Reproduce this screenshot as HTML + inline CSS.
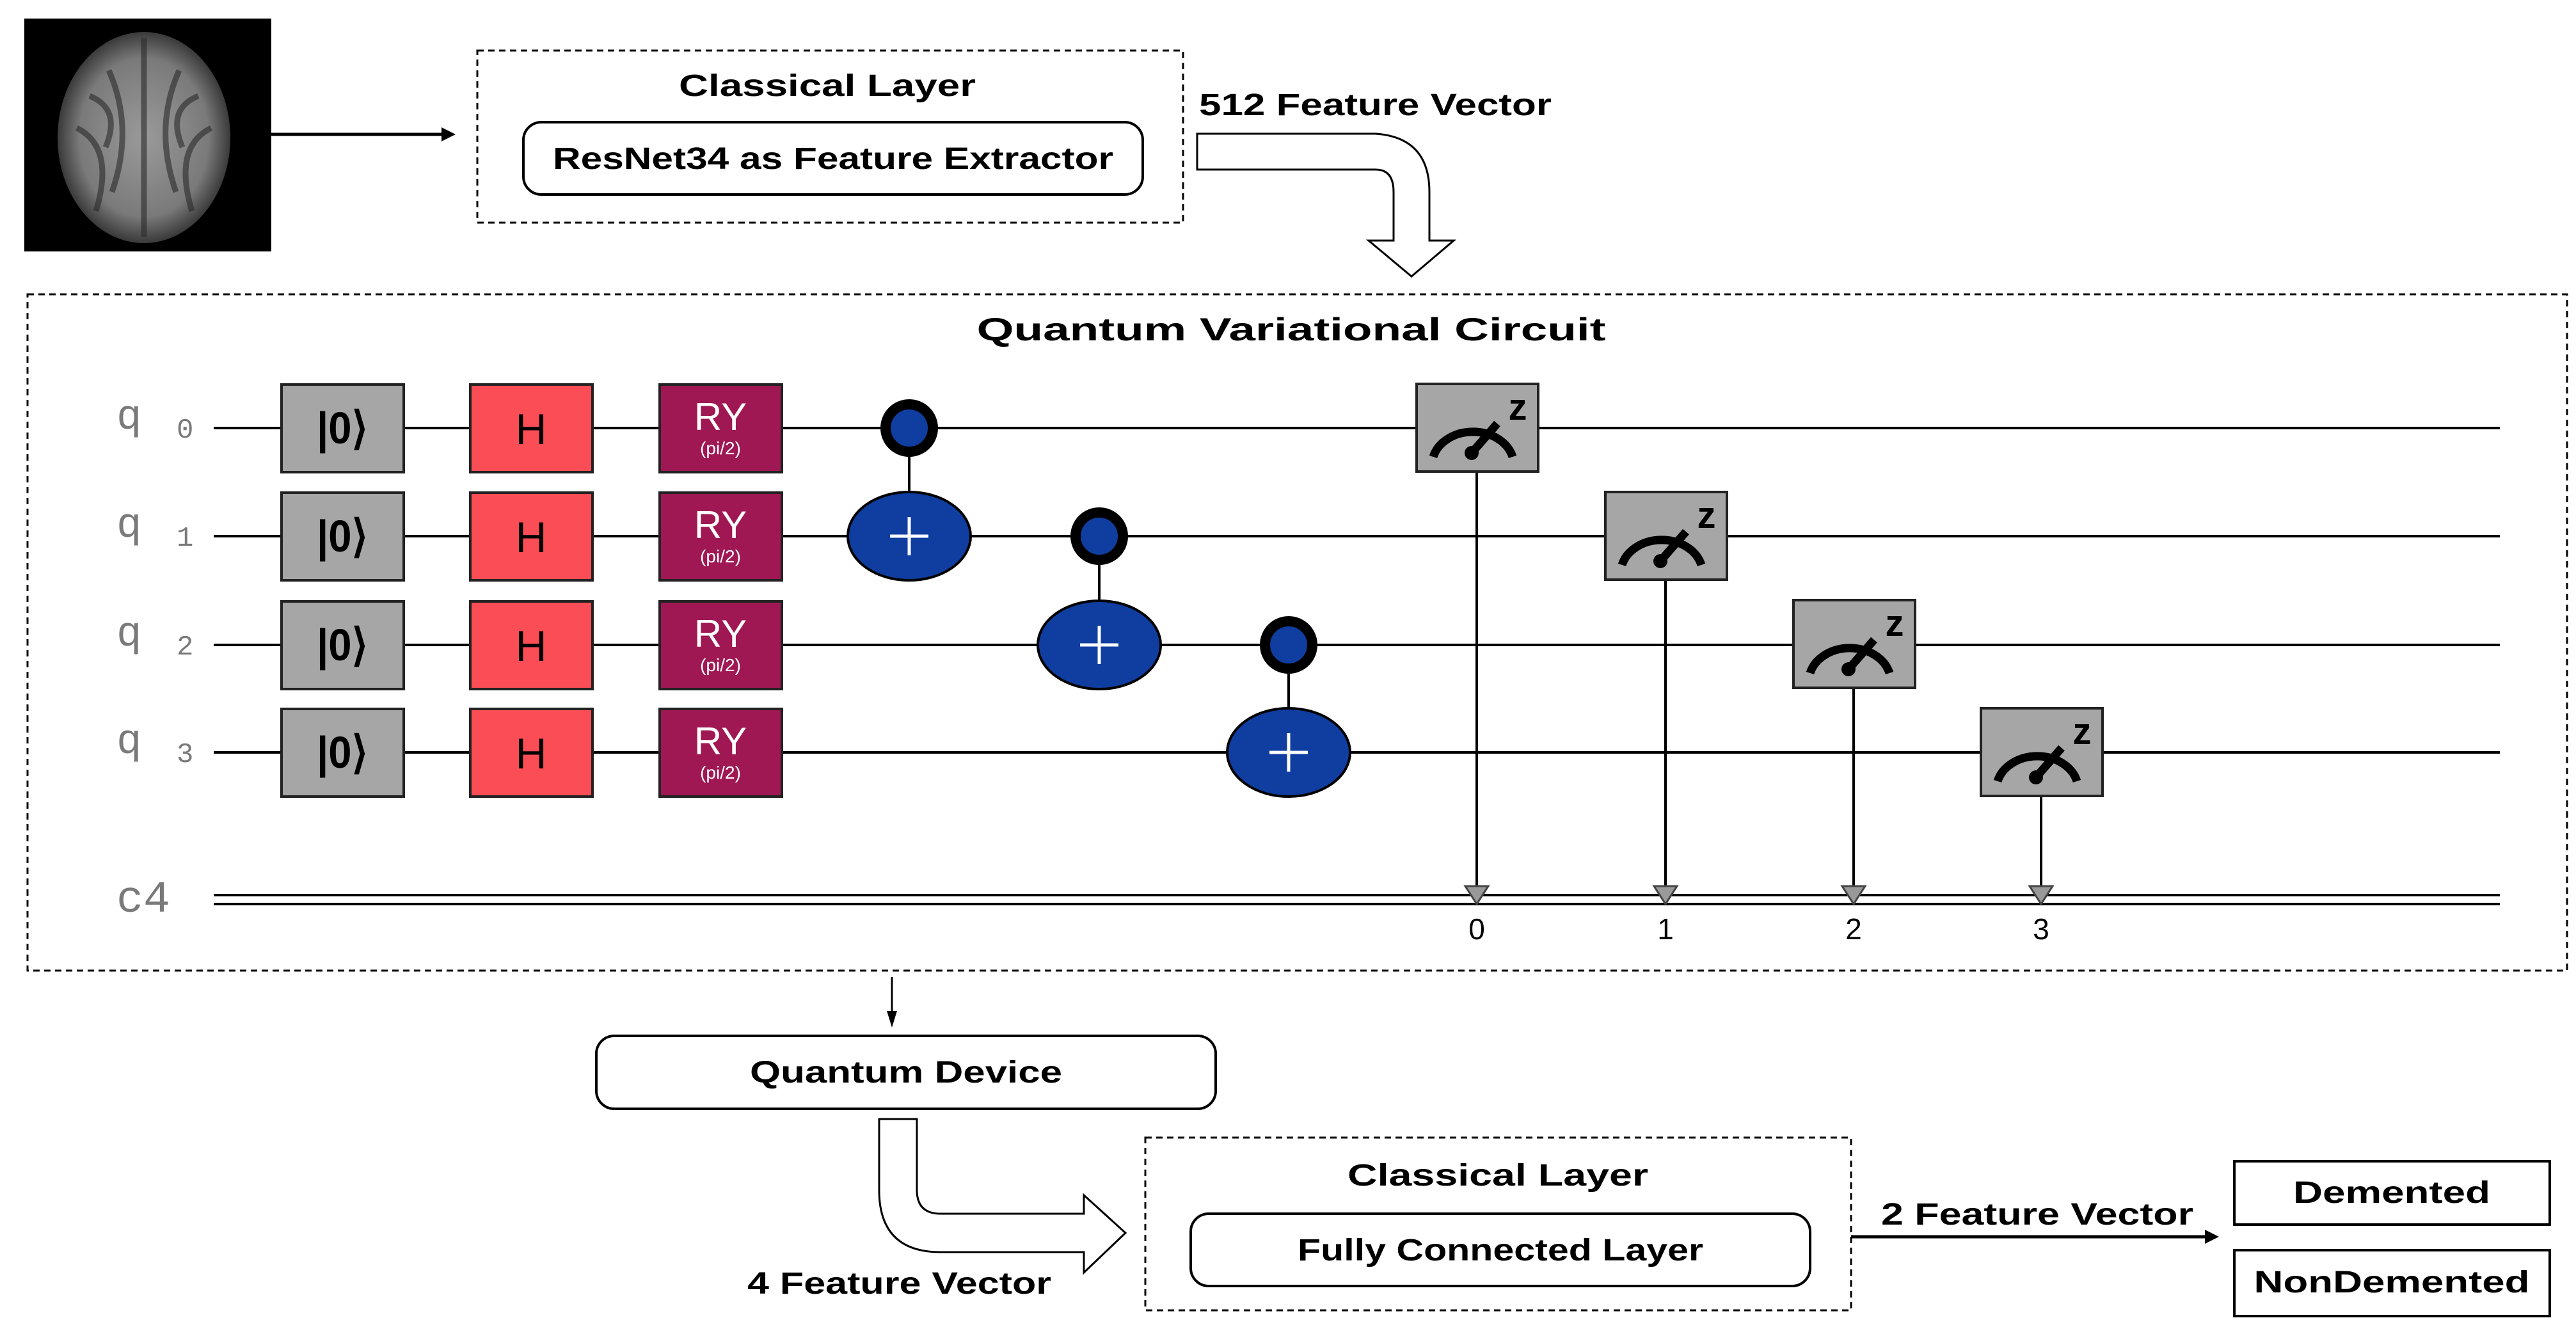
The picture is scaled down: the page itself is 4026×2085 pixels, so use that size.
<!DOCTYPE html>
<html><head><meta charset="utf-8"><style>
html,body{margin:0;padding:0;background:#fff;}
svg{display:block;}
.t{font-family:"Liberation Sans",sans-serif;font-weight:bold;fill:#000;}
.m{font-family:"Liberation Mono",monospace;fill:#7a7a7a;}
</style></head><body>
<svg width="4026" height="2085" viewBox="0 0 4026 2085" xmlns="http://www.w3.org/2000/svg">
<defs>
<radialGradient id="br" cx="50%" cy="50%" r="50%">
<stop offset="0" stop-color="#9a9a9a"/><stop offset="0.75" stop-color="#7a7a7a"/><stop offset="1" stop-color="#3a3a3a"/>
</radialGradient>
</defs>
<!-- brain image -->
<rect x="38" y="29" width="386" height="364" fill="#000"/>
<ellipse cx="225" cy="215" rx="135" ry="165" fill="url(#br)"/>
<path d="M225 60 L225 370 M170 110 Q210 200 175 300 M280 110 Q240 200 275 300 M120 200 Q180 230 150 330 M330 200 Q270 230 300 330 M140 150 Q190 170 165 230 M310 150 Q260 170 285 230" stroke="#2a2a2a" stroke-width="9" fill="none" opacity="0.6"/>
<!-- arrow image -> classical -->
<line x1="424" y1="210" x2="700" y2="210" stroke="#000" stroke-width="5"/>
<polygon points="712,210 690,199 690,221" fill="#000"/>
<!-- classical layer 1 -->
<rect x="746" y="79" width="1103" height="269" fill="none" stroke="#000" stroke-width="3" stroke-dasharray="10,7"/>
<text class="t" x="1293" y="150" font-size="48" text-anchor="middle" textLength="464" lengthAdjust="spacingAndGlyphs">Classical Layer</text>
<rect x="818" y="191" width="968" height="113" rx="28" fill="#fff" stroke="#000" stroke-width="4"/>
<text class="t" x="1302" y="264" font-size="48" text-anchor="middle" textLength="876" lengthAdjust="spacingAndGlyphs">ResNet34 as Feature Extractor</text>
<text class="t" x="1874" y="180" font-size="48" textLength="551" lengthAdjust="spacingAndGlyphs">512 Feature Vector</text>
<!-- block arrow 1 -->
<path d="M1871 209 L2150 209 Q2234 215 2234 300 L2234 376 L2272 376 L2206 432 L2139 376 L2178 376 L2178 300 Q2178 265 2150 265 L1871 265 Z" fill="#fff" stroke="#000" stroke-width="3"/>
<!-- quantum box -->
<rect x="43" y="460" width="3969" height="1057" fill="none" stroke="#000" stroke-width="3" stroke-dasharray="10,7"/>
<text class="t" x="2018" y="532" font-size="50" text-anchor="middle" textLength="983" lengthAdjust="spacingAndGlyphs">Quantum Variational Circuit</text>
<!-- wires -->
<g stroke="#000" stroke-width="4">
<line x1="334" y1="669" x2="3907" y2="669"/>
<line x1="334" y1="838" x2="3907" y2="838"/>
<line x1="334" y1="1008" x2="3907" y2="1008"/>
<line x1="334" y1="1176" x2="3907" y2="1176"/>
<line x1="334" y1="1399" x2="3907" y2="1399"/>
<line x1="334" y1="1413" x2="3907" y2="1413"/>
</g>
<!-- labels -->
<g class="m">
<text x="182" y="670" font-size="66">q</text><text x="276" y="684" font-size="44">0</text>
<text x="182" y="839" font-size="66">q</text><text x="276" y="853" font-size="44">1</text>
<text x="182" y="1009" font-size="66">q</text><text x="276" y="1023" font-size="44">2</text>
<text x="182" y="1177" font-size="66">q</text><text x="276" y="1191" font-size="44">3</text>
<text x="182" y="1425" font-size="70">c4</text>
</g>
<!-- gates -->
<g stroke="#222" stroke-width="4">
<rect x="440" y="601" width="191" height="137" fill="#a6a6a6"/>
<rect x="735" y="601" width="191" height="137" fill="#fa4d56"/>
<rect x="1031" y="601" width="191" height="137" fill="#9f1853"/>
<rect x="440" y="770" width="191" height="137" fill="#a6a6a6"/>
<rect x="735" y="770" width="191" height="137" fill="#fa4d56"/>
<rect x="1031" y="770" width="191" height="137" fill="#9f1853"/>
<rect x="440" y="940" width="191" height="137" fill="#a6a6a6"/>
<rect x="735" y="940" width="191" height="137" fill="#fa4d56"/>
<rect x="1031" y="940" width="191" height="137" fill="#9f1853"/>
<rect x="440" y="1108" width="191" height="137" fill="#a6a6a6"/>
<rect x="735" y="1108" width="191" height="137" fill="#fa4d56"/>
<rect x="1031" y="1108" width="191" height="137" fill="#9f1853"/>
</g>
<g class="t" text-anchor="middle">
<text x="535" y="693" font-size="70" textLength="80" lengthAdjust="spacingAndGlyphs">|0⟩</text><text x="830" y="694" font-size="68" font-weight="normal">H</text>
<text x="535" y="862" font-size="70" textLength="80" lengthAdjust="spacingAndGlyphs">|0⟩</text><text x="830" y="863" font-size="68" font-weight="normal">H</text>
<text x="535" y="1032" font-size="70" textLength="80" lengthAdjust="spacingAndGlyphs">|0⟩</text><text x="830" y="1033" font-size="68" font-weight="normal">H</text>
<text x="535" y="1200" font-size="70" textLength="80" lengthAdjust="spacingAndGlyphs">|0⟩</text><text x="830" y="1201" font-size="68" font-weight="normal">H</text>
</g>
<g font-family="Liberation Sans,sans-serif" fill="#fff" text-anchor="middle">
<text x="1126" y="672" font-size="60">RY</text><text x="1126" y="710" font-size="28">(pi/2)</text>
<text x="1126" y="841" font-size="60">RY</text><text x="1126" y="879" font-size="28">(pi/2)</text>
<text x="1126" y="1011" font-size="60">RY</text><text x="1126" y="1049" font-size="28">(pi/2)</text>
<text x="1126" y="1179" font-size="60">RY</text><text x="1126" y="1217" font-size="28">(pi/2)</text>
</g>
<!-- CNOTs -->
<g stroke="#000" stroke-width="4">
<line x1="1421" y1="669" x2="1421" y2="838"/>
<line x1="1718" y1="838" x2="1718" y2="1008"/>
<line x1="2014" y1="1008" x2="2014" y2="1176"/>
</g>
<circle cx="1421" cy="669" r="37" fill="#0f3ea0" stroke="#000" stroke-width="16"/>
<circle cx="1718" cy="838" r="37" fill="#0f3ea0" stroke="#000" stroke-width="16"/>
<circle cx="2014" cy="1008" r="37" fill="#0f3ea0" stroke="#000" stroke-width="16"/>
<ellipse cx="1421" cy="838" rx="96" ry="69" fill="#0f3ea0" stroke="#000" stroke-width="4"/>
<ellipse cx="1718" cy="1008" rx="96" ry="69" fill="#0f3ea0" stroke="#000" stroke-width="4"/>
<ellipse cx="2014" cy="1176" rx="96" ry="69" fill="#0f3ea0" stroke="#000" stroke-width="4"/>
<g stroke="#fff" stroke-width="5">
<path d="M1421 808 V868 M1391 838 H1451"/>
<path d="M1718 978 V1038 M1688 1008 H1748"/>
<path d="M2014 1146 V1206 M1984 1176 H2044"/>
</g>
<!-- measurement -->
<g stroke="#000" stroke-width="4">
<line x1="2308" y1="737" x2="2308" y2="1390"/>
<line x1="2603" y1="906" x2="2603" y2="1390"/>
<line x1="2897" y1="1075" x2="2897" y2="1390"/>
<line x1="3190" y1="1244" x2="3190" y2="1390"/>
</g>
<g fill="#999" stroke="#444" stroke-width="3">
<polygon points="2290,1385 2326,1385 2308,1413"/>
<polygon points="2585,1385 2621,1385 2603,1413"/>
<polygon points="2879,1385 2915,1385 2897,1413"/>
<polygon points="3172,1385 3208,1385 3190,1413"/>
</g>
<g font-family="Liberation Sans,sans-serif" font-size="46" text-anchor="middle" fill="#000">
<text x="2308" y="1468">0</text><text x="2603" y="1468">1</text><text x="2897" y="1468">2</text><text x="3190" y="1468">3</text>
</g>
<g>
<g transform="translate(2214,600)">
<rect width="190" height="137" fill="#a6a6a6" stroke="#222" stroke-width="4"/>
<path d="M26 114 A64 52 0 0 1 150 114" fill="none" stroke="#000" stroke-width="13"/>
<path d="M86 108 L126 62" stroke="#000" stroke-width="13"/>
<circle cx="86" cy="108" r="11" fill="#000"/>
<text x="158" y="56" font-family="Liberation Sans,sans-serif" font-weight="bold" font-size="58" text-anchor="middle">z</text>
</g>
<g transform="translate(2509,769)">
<rect width="190" height="137" fill="#a6a6a6" stroke="#222" stroke-width="4"/>
<path d="M26 114 A64 52 0 0 1 150 114" fill="none" stroke="#000" stroke-width="13"/>
<path d="M86 108 L126 62" stroke="#000" stroke-width="13"/>
<circle cx="86" cy="108" r="11" fill="#000"/>
<text x="158" y="56" font-family="Liberation Sans,sans-serif" font-weight="bold" font-size="58" text-anchor="middle">z</text>
</g>
<g transform="translate(2803,938)">
<rect width="190" height="137" fill="#a6a6a6" stroke="#222" stroke-width="4"/>
<path d="M26 114 A64 52 0 0 1 150 114" fill="none" stroke="#000" stroke-width="13"/>
<path d="M86 108 L126 62" stroke="#000" stroke-width="13"/>
<circle cx="86" cy="108" r="11" fill="#000"/>
<text x="158" y="56" font-family="Liberation Sans,sans-serif" font-weight="bold" font-size="58" text-anchor="middle">z</text>
</g>
<g transform="translate(3096,1107)">
<rect width="190" height="137" fill="#a6a6a6" stroke="#222" stroke-width="4"/>
<path d="M26 114 A64 52 0 0 1 150 114" fill="none" stroke="#000" stroke-width="13"/>
<path d="M86 108 L126 62" stroke="#000" stroke-width="13"/>
<circle cx="86" cy="108" r="11" fill="#000"/>
<text x="158" y="56" font-family="Liberation Sans,sans-serif" font-weight="bold" font-size="58" text-anchor="middle">z</text>
</g>
</g>
<!-- down arrow -->
<line x1="1394" y1="1527" x2="1394" y2="1585" stroke="#000" stroke-width="3"/>
<polygon points="1394,1606 1386,1580 1402,1580" fill="#000"/>
<!-- quantum device -->
<rect x="932" y="1619" width="968" height="114" rx="28" fill="#fff" stroke="#000" stroke-width="4"/>
<text class="t" x="1416" y="1692" font-size="48" text-anchor="middle" textLength="488" lengthAdjust="spacingAndGlyphs">Quantum Device</text>
<!-- block arrow 2 -->
<path d="M1374 1749 L1433 1749 L1433 1860 Q1433 1897 1470 1897 L1694 1897 L1694 1868 L1759 1927 L1694 1989 L1694 1957 L1470 1957 Q1374 1957 1374 1860 Z" fill="#fff" stroke="#000" stroke-width="3"/>
<text class="t" x="1168" y="2022" font-size="48" textLength="475" lengthAdjust="spacingAndGlyphs">4 Feature Vector</text>
<!-- classical layer 2 -->
<rect x="1790" y="1778" width="1103" height="270" fill="none" stroke="#000" stroke-width="3" stroke-dasharray="10,7"/>
<text class="t" x="2341" y="1853" font-size="48" text-anchor="middle" textLength="470" lengthAdjust="spacingAndGlyphs">Classical Layer</text>
<rect x="1861" y="1897" width="968" height="113" rx="28" fill="#fff" stroke="#000" stroke-width="4"/>
<text class="t" x="2345" y="1970" font-size="48" text-anchor="middle" textLength="634" lengthAdjust="spacingAndGlyphs">Fully Connected Layer</text>
<text class="t" x="2940" y="1914" font-size="48" textLength="488" lengthAdjust="spacingAndGlyphs">2 Feature Vector</text>
<line x1="2893" y1="1933" x2="3450" y2="1933" stroke="#000" stroke-width="5"/>
<polygon points="3468,1933 3446,1922 3446,1944" fill="#000"/>
<rect x="3492" y="1815" width="493" height="99" fill="#fff" stroke="#000" stroke-width="4"/>
<text class="t" x="3738" y="1880" font-size="48" text-anchor="middle" textLength="308" lengthAdjust="spacingAndGlyphs">Demented</text>
<rect x="3492" y="1954" width="493" height="103" fill="#fff" stroke="#000" stroke-width="4"/>
<text class="t" x="3738" y="2020" font-size="48" text-anchor="middle" textLength="431" lengthAdjust="spacingAndGlyphs">NonDemented</text>
</svg>
</body></html>
